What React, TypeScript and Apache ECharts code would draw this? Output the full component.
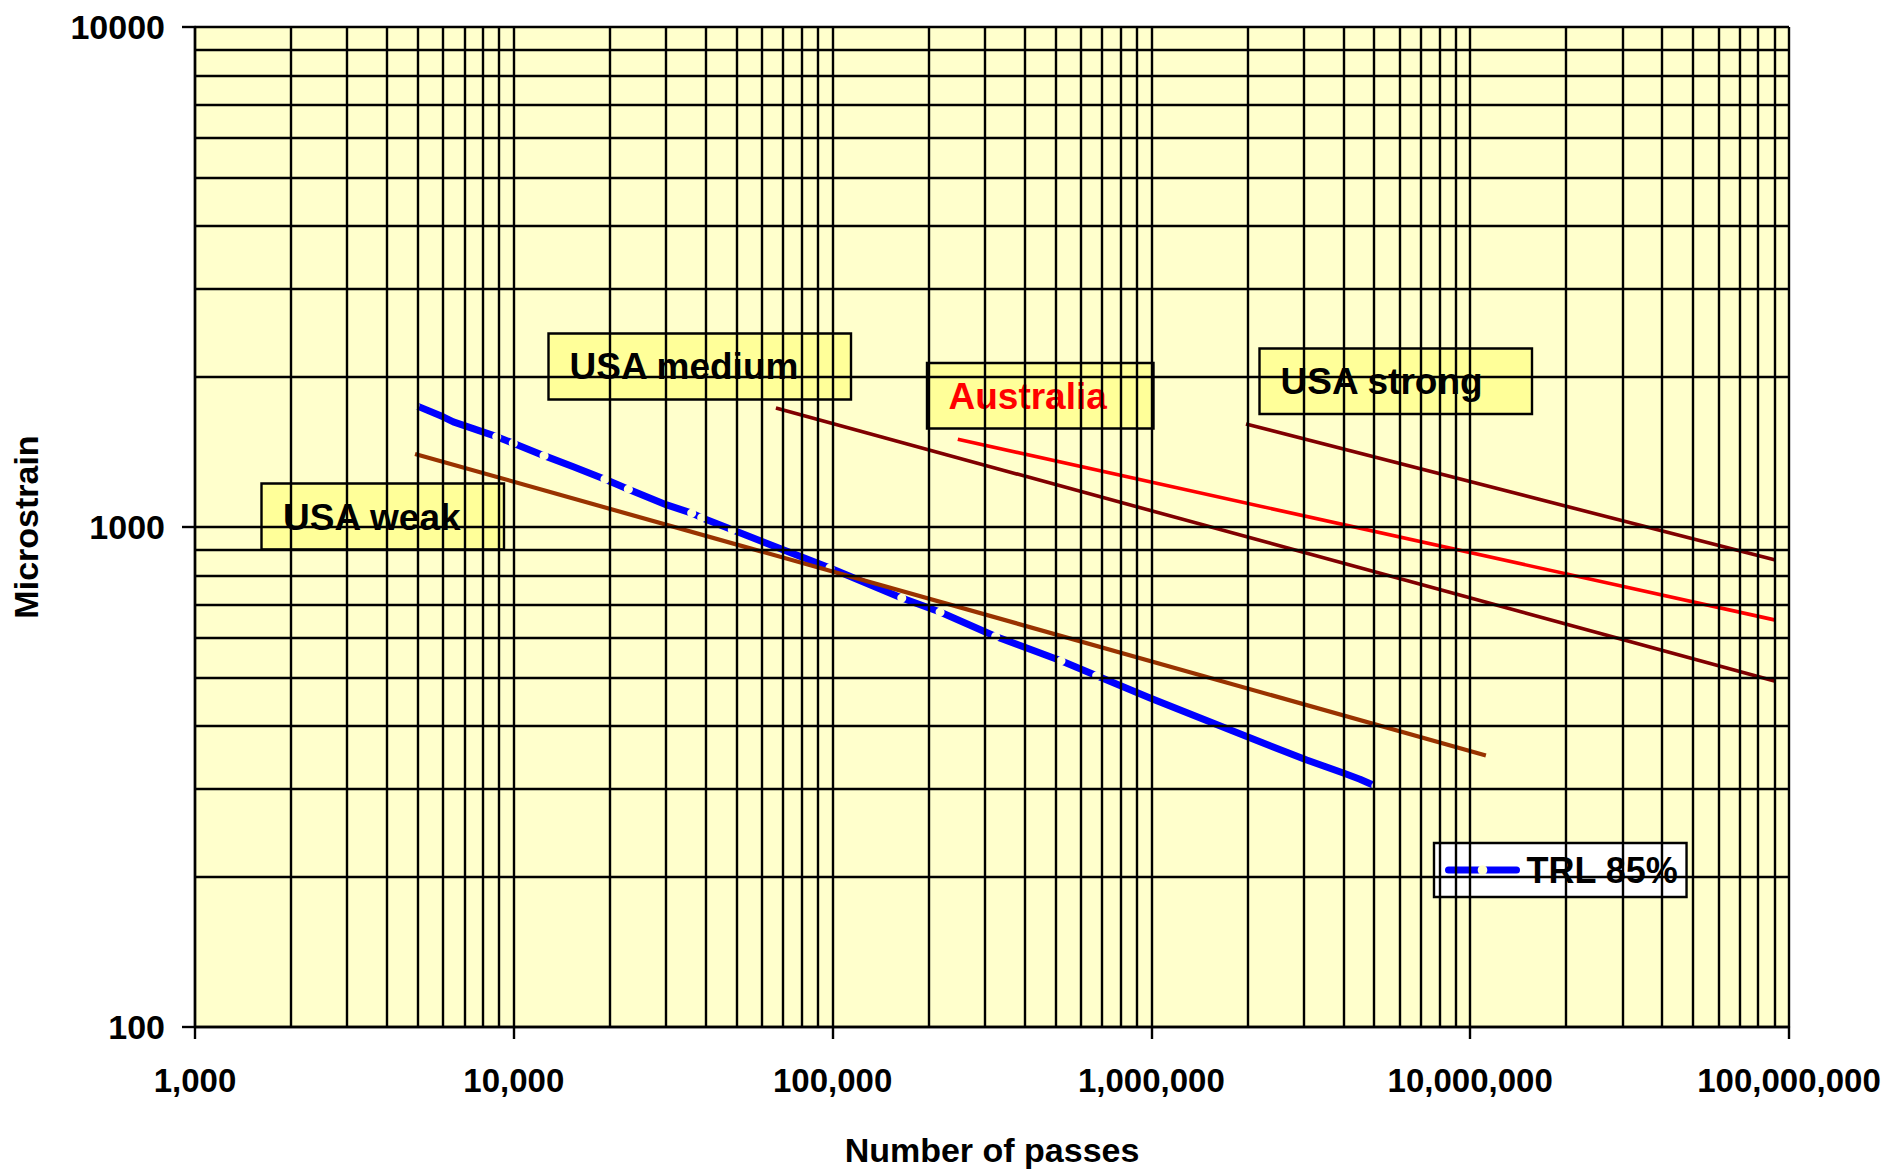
import React, { useEffect, useRef } from "react";
import * as echarts from "echarts";

// ---- Axis ticks ----
const xTickValues = [1000, 10000, 100000, 1000000, 10000000, 100000000];
const xTickLabels = ["1,000", "10,000", "100,000", "1,000,000", "10,000,000", "100,000,000"];
const yTickValues = [100, 1000, 10000];
const yTickLabels = ["100", "1000", "10000"];

// ---- Log grid lines (decade x multiplier) ----
const gridMultipliers = [1, 2, 3, 4, 5, 6, 7, 8, 9];
const xGridDecades = [1000, 10000, 100000, 1000000, 10000000];
const xGridTop = 100000000;
const yGridDecades = [100, 1000];
const yGridTop = 10000;

// ---- Straight criteria lines ----
const usaWeakX = [4900, 11200000];
const usaWeakY = [1400, 349];
const usaMediumX = [66400, 90000000];
const usaMediumY = [1729, 492];
const australiaX = [247000, 90000000];
const australiaY = [1498, 652];
const usaStrongX = [1980000, 90000000];
const usaStrongY = [1607, 860];

// ---- TRL 85% curve ----
const trlX = [4900, 6000, 6460, 8840, 9960, 12440, 15370, 19320, 22870, 30180, 36140, 38850, 48460, 98130, 164800, 217300, 324800, 520400, 673600, 990000, 1991000, 3070000, 4000000, 4510000, 5060000];
const trlY = [1753, 1661, 1623, 1516, 1471, 1389, 1320, 1246, 1190, 1107, 1066, 1044, 987, 828, 721, 676, 604, 540, 504, 455, 381, 342, 322, 313, 303];
const trlMarker = [true, false, false, true, true, true, false, true, true, false, true, true, true, true, true, true, true, true, true, false, false, false, false, false, true];

const FONT = "'Liberation Sans', Arial, Helvetica, sans-serif";

const boxes = [
  { text: "USA weak", color: "#000000", x: 261.5, y: 483.5, w: 242.5, h: 66, tx: 283, ty: 517 },
  { text: "USA medium", color: "#000000", x: 548.5, y: 333.5, w: 302.5, h: 66, tx: 569.5, ty: 366 },
  { text: "Australia", color: "#FF0000", x: 927, y: 363, w: 226.5, h: 65.5, tx: 948.5, ty: 396 },
  { text: "USA strong", color: "#000000", x: 1259.5, y: 348.5, w: 272.5, h: 65.5, tx: 1280.5, ty: 381 },
];

function pairs(xs: number[], ys: number[]) {
  return xs.map((x, i) => [x, ys[i]]);
}

export default function App() {
  const ref = useRef<HTMLDivElement>(null);

  useEffect(() => {
    document.body.style.margin = "0";
    const chart = echarts.init(ref.current!, null, { renderer: "svg" });

    const xGrid: number[] = [];
    xGridDecades.forEach((d) => gridMultipliers.forEach((m) => xGrid.push(d * m)));
    xGrid.push(xGridTop);
    const yGrid: number[] = [];
    yGridDecades.forEach((d) => gridMultipliers.forEach((m) => yGrid.push(d * m)));
    yGrid.push(yGridTop);

    const labelFor = (vals: number[], labels: string[]) => (v: number) => {
      const idx = vals.findIndex((t) => Math.abs(Math.log10(t) - Math.log10(v)) < 1e-6);
      return idx >= 0 ? labels[idx] : "";
    };

    const lineSeries = (name: string, xs: number[], ys: number[], color: string, width: number, z: number) => ({
      name,
      type: "line",
      data: pairs(xs, ys),
      symbol: "none",
      lineStyle: { color, width, cap: "butt" },
      itemStyle: { color },
      z,
      silent: true,
    });

    const option: any = {
      animation: false,
      backgroundColor: "#ffffff",
      textStyle: { fontFamily: FONT },
      grid: {
        left: 195,
        top: 27,
        width: 1594,
        height: 1001,
        show: true,
        backgroundColor: "#FFFFCC",
        borderWidth: 0,
      },
      xAxis: {
        type: "log",
        logBase: 10,
        min: 1000,
        max: 100000000,
        name: "Number of passes",
        nameLocation: "middle",
        nameGap: 106,
        nameTextStyle: { fontSize: 34, fontWeight: "bold", color: "#000", fontFamily: FONT },
        axisLine: { show: true, lineStyle: { color: "#000", width: 2.4 } },
        axisTick: { show: true, length: 12, lineStyle: { color: "#000", width: 2.4 } },
        axisLabel: {
          fontSize: 33,
          fontWeight: "bold",
          color: "#000",
          margin: 37,
          fontFamily: FONT,
          formatter: labelFor(xTickValues, xTickLabels),
        },
        splitLine: { show: false },
        minorTick: { show: false },
      },
      yAxis: {
        type: "log",
        logBase: 10,
        min: 100,
        max: 10000,
        name: "Microstrain",
        nameLocation: "middle",
        nameGap: 152,
        nameRotate: 90,
        nameTextStyle: { fontSize: 34, fontWeight: "bold", color: "#000", fontFamily: FONT },
        axisLine: { show: true, lineStyle: { color: "#000", width: 2.4 } },
        axisTick: { show: true, length: 13, lineStyle: { color: "#000", width: 2.4 } },
        axisLabel: {
          fontSize: 34,
          fontWeight: "bold",
          color: "#000",
          margin: 30,
          fontFamily: FONT,
          formatter: labelFor(yTickValues, yTickLabels),
        },
        splitLine: { show: false },
      },
      legend: {
        show: true,
        data: ["TRL 85%"],
        left: 1434,
        top: 843,
        orient: "horizontal",
        backgroundColor: "#ffffff",
        borderColor: "#000000",
        borderWidth: 2.4,
        borderRadius: 0,
        padding: [9, 8, 9, 11],
        itemWidth: 68,
        itemHeight: 12,
        lineStyle: { width: 7, color: "#0000FF" },
        itemStyle: { color: "#FFFFCC", borderWidth: 0 },
        textStyle: { fontSize: 36, fontWeight: "bold", color: "#000", fontFamily: FONT, padding: [0, 0, 0, 5] },
        selectedMode: false,
      },
      series: [
        {
          name: "grid",
          type: "line",
          data: [[1000, 100]],
          symbol: "none",
          lineStyle: { width: 0 },
          silent: true,
          z: 1,
          markLine: {
            silent: true,
            symbol: ["none", "none"],
            label: { show: false },
            lineStyle: { color: "#000000", width: 2.4, type: "solid", opacity: 1 },
            emphasis: { disabled: true },
            data: [
              ...xGrid.map((v) => ({ xAxis: v })),
              ...yGrid.map((v) => ({ yAxis: v })),
            ],
          },
        },
        {
          name: "TRL 85%",
          type: "line",
          data: trlX.map((x, i) =>
            trlMarker[i]
              ? { value: [x, trlY[i]], symbol: "circle", symbolSize: 9 }
              : { value: [x, trlY[i]], symbol: "none" }
          ),
          symbol: "circle",
          symbolSize: 9,
          showSymbol: true,
          showAllSymbol: true,
          lineStyle: { color: "#0000FF", width: 7, cap: "round", join: "round" },
          itemStyle: { color: "#FFFFCC", borderWidth: 0 },
          z: 3,
          silent: true,
        },
        lineSeries("USA weak", usaWeakX, usaWeakY, "#993300", 4.2, 4),
        lineSeries("USA medium", usaMediumX, usaMediumY, "#800000", 3.6, 4),
        lineSeries("Australia", australiaX, australiaY, "#FF0000", 3.6, 4),
        lineSeries("USA strong", usaStrongX, usaStrongY, "#800000", 3.6, 4),
      ],
      graphic: boxes.map((b) => ({
        type: "group",
        z: 20,
        children: [
          {
            type: "rect",
            shape: { x: b.x, y: b.y, width: b.w, height: b.h },
            style: { fill: "#FFFF99", stroke: "#000000", lineWidth: 2.4 },
          },
          {
            type: "text",
            x: b.tx,
            y: b.ty,
            style: {
              text: b.text,
              fill: b.color,
              font: `bold 37px ${FONT}`,
              textAlign: "left",
              textVerticalAlign: "middle",
            },
          },
        ],
      })),
    };

    chart.setOption(option);
    return () => chart.dispose();
  }, []);

  return <div ref={ref} style={{ width: 1887, height: 1172 }} />;
}
